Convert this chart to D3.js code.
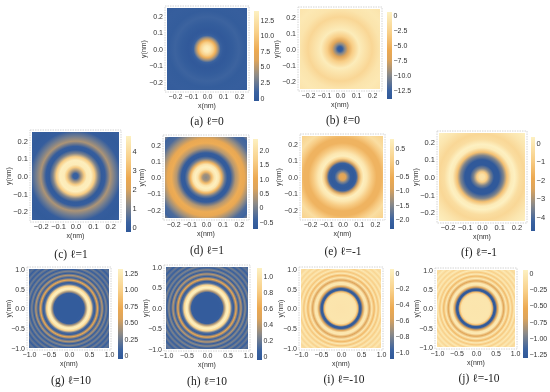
<!DOCTYPE html>
<html>
<head>
<meta charset="utf-8">
<script src="https://cdn.jsdelivr.net/npm/d3@7"></script>
<style>
  html, body { margin: 0; padding: 0; background: #fff; }
  svg { display: block; filter: blur(0.3px); }
  .tick text { font-family: "Liberation Sans", sans-serif; fill: #333; }
  .axis-title { font-family: "Liberation Sans", sans-serif; font-size: 7px; fill: #333; }
  .caption { font-family: "Liberation Serif", "DejaVu Serif", serif; font-size: 11.5px; fill: #222; text-anchor: middle; }
</style>
</head>
<body>
<div id="chart"></div>
<script>
// radial profiles: radius in nm, value in the panel's own units
const radiiA = [0, 0.02, 0.04, 0.055, 0.07, 0.085, 0.1, 0.12, 0.16, 0.2, 0.24, 0.3, 0.36];
const valuesA = [13.9, 13, 10.5, 8, 4, 1, 0, -0.3, 0.2, 1, 0.2, 0.4, 0.1];
const radiiB = [0, 0.015, 0.03, 0.05, 0.08, 0.12, 0.15, 0.2, 0.25, 0.3, 0.36];
const valuesB = [-13.9, -13, -10, -7, -3, 0, -0.8, -2.2, -0.8, -0.4, -0.9];
const radiiC = [0, 0.015, 0.03, 0.05, 0.065, 0.09, 0.11, 0.13, 0.15, 0.17, 0.2, 0.23, 0.26, 0.3, 0.36];
const valuesC = [0.1, 0.2, 1.3, 3.5, 4.6, 4.7, 3.5, 1, -0.1, 0, 1.5, 0.8, 0, -0.1, 0.1];
const radiiD = [0, 0.02, 0.035, 0.05, 0.065, 0.08, 0.095, 0.115, 0.13, 0.15, 0.18, 0.21, 0.235, 0.27, 0.3, 0.33, 0.36];
const valuesD = [0.1, 0.3, 1.3, 2.1, 2.35, 2.1, 1.2, -0.1, -0.65, -0.6, 0.4, 1.05, 0.95, 0.2, -0.3, -0.4, 0.3];
const radiiE = [0, 0.02, 0.035, 0.05, 0.07, 0.085, 0.1, 0.115, 0.13, 0.15, 0.18, 0.21, 0.24, 0.27, 0.3, 0.36];
const valuesE = [-0.6, -0.9, -1.6, -2.2, -2.3, -2.1, -1, 0.2, 0.75, 0.6, 0, -0.4, -0.4, 0, 0.4, 0.1];
const radiiF = [0, 0.015, 0.03, 0.05, 0.07, 0.1, 0.125, 0.145, 0.17, 0.19, 0.22, 0.25, 0.3, 0.36];
const valuesF = [-0.2, -0.3, -1, -3.5, -4.7, -4.7, -3.5, -1.3, 0.1, 0.3, -0.4, -0.6, -0.1, 0.3];
const radiiG = [0, 0.3, 0.38, 0.42, 0.47, 0.51, 0.56, 0.61, 0.65, 0.71, 0.77, 0.83, 0.88, 0.93, 0.98, 1.03, 1.08, 1.13, 1.18, 1.23, 1.28, 1.33, 1.42];
const valuesG = [0, 0, 0.02, 0.4, 1.2, 1.3, 1, 0.15, 0, 0.7, 0.05, 0.45, 0, 0.3, 0.02, 0.28, 0.02, 0.25, 0.02, 0.22, 0.02, 0.2, 0.05];
const radiiH = radiiG;
const valuesH = [0, 0, 0.02, 0.35, 1, 1.1, 0.85, 0.12, 0, 0.58, 0.04, 0.38, 0, 0.27, 0.02, 0.24, 0.02, 0.22, 0.02, 0.19, 0.02, 0.17, 0.04];
const radiiI = [0, 0.33, 0.38, 0.42, 0.46, 0.5, 0.55, 0.6, 0.65, 0.71, 0.77, 0.83, 0.88, 0.93, 0.98, 1.03, 1.08, 1.13, 1.18, 1.23, 1.28, 1.33, 1.42];
const valuesI = [-0.06, -0.05, -0.08, -0.35, -1.05, -1.05, -0.55, -0.05, -0.03, -0.55, -0.03, -0.36, -0.02, -0.28, -0.03, -0.23, -0.03, -0.2, -0.03, -0.17, -0.03, -0.15, -0.06];
const radiiJ = radiiI;
const valuesJ = [-0.07, -0.06, -0.09, -0.42, -1.28, -1.28, -0.67, -0.06, -0.03, -0.65, -0.03, -0.43, -0.02, -0.33, -0.03, -0.27, -0.03, -0.24, -0.03, -0.2, -0.03, -0.18, -0.07];

// value range of each colorbar
const rangeA = [-0.5, 13.9], rangeB = [-13.9, 0.5];
const rangeC = [-0.26, 4.8], rangeD = [-0.74, 2.38];
const rangeE = [-2.35, 0.82], rangeF = [-4.76, 0.32];
const rangeG = [-0.05, 1.31], rangeH = [-0.05, 1.1];
const rangeI = [-1.09, 0.05], rangeJ = [-1.31, 0.05];

// colorbar tick labels
const barTicksA = [0, 2.5, 5, 7.5, 10, 12.5];
const barTicksB = [0, -2.5, -5, -7.5, -10, -12.5];
const barTicksC = [0, 1, 2, 3, 4];
const barTicksD = [-0.5, 0, 0.5, 1, 1.5, 2];
const barTicksE = [-2, -1.5, -1, -0.5, 0, 0.5];
const barTicksF = [-4, -3, -2, -1, 0];
const barTicksG = [0, 0.25, 0.5, 0.75, 1, 1.25];
const barTicksH = [0, 0.2, 0.4, 0.6, 0.8, 1];
const barTicksI = [-1, -0.8, -0.6, -0.4, -0.2, 0];
const barTicksJ = [-1.25, -1, -0.75, -0.5, -0.25, 0];

const smallTicks = [-0.2, -0.1, 0, 0.1, 0.2];
const largeTicks = [-1, -0.5, 0, 0.5, 1];

const colorStops = ["#2f5899", "#3a62a0", "#8c8a88", "#dca45c", "#eca951", "#f8cf88", "#fdf1c2"];
const colorStopsAt = [0, 0.1, 0.28, 0.45, 0.56, 0.76, 1];

const panels = [
  { id: "a", label: "(a) ℓ=0", radii: radiiA, values: valuesA, range: rangeA, barTicks: barTicksA, barFmt: ".1f", lim: 0.25, ticks: smallTicks,
    box: [167, 247, 8, 90], bar: [254, 259, 11, 101], cap: [207, 125], size: 7 },
  { id: "b", label: "(b) ℓ=0", radii: radiiB, values: valuesB, range: rangeB, barTicks: barTicksB, barFmt: ".1f", lim: 0.25, ticks: smallTicks,
    box: [300, 380, 9, 89], bar: [387, 392, 12, 99], cap: [343, 124], size: 7 },
  { id: "c", label: "(c) ℓ=1", radii: radiiC, values: valuesC, range: rangeC, barTicks: barTicksC, barFmt: "d", lim: 0.25, ticks: smallTicks,
    box: [32, 119, 132, 220], bar: [126, 131, 136, 232], cap: [71, 258], size: 7.5 },
  { id: "d", label: "(d) ℓ=1", radii: radiiD, values: valuesD, range: rangeD, barTicks: barTicksD, barFmt: ".1f", lim: 0.25, ticks: smallTicks,
    box: [165, 247, 137, 218], bar: [253, 258, 139, 229], cap: [207, 254], size: 7 },
  { id: "e", label: "(e) ℓ=-1", radii: radiiE, values: valuesE, range: rangeE, barTicks: barTicksE, barFmt: ".1f", lim: 0.25, ticks: smallTicks,
    box: [302, 383, 136, 218], bar: [390, 394, 139, 229], cap: [343, 255], size: 7 },
  { id: "f", label: "(f) ℓ=-1", radii: radiiF, values: valuesF, range: rangeF, barTicks: barTicksF, barFmt: "d", lim: 0.25, ticks: smallTicks,
    box: [439, 525, 133, 221], bar: [531, 535, 137, 231], cap: [479, 256], size: 7.5 },
  { id: "g", label: "(g) ℓ=10", radii: radiiG, values: valuesG, range: rangeG, barTicks: barTicksG, barFmt: ".2f", lim: 1, ticks: largeTicks,
    box: [29, 109, 269, 348], bar: [118, 123, 269, 359], cap: [71, 384], size: 7 },
  { id: "h", label: "(h) ℓ=10", radii: radiiH, values: valuesH, range: rangeH, barTicks: barTicksH, barFmt: ".1f", lim: 1, ticks: largeTicks,
    box: [166, 248, 267, 349], bar: [257, 262, 268, 360], cap: [207, 385], size: 7 },
  { id: "i", label: "(i) ℓ=-10", radii: radiiI, values: valuesI, range: rangeI, barTicks: barTicksI, barFmt: ".1f", lim: 1, ticks: largeTicks,
    box: [301, 381, 269, 348], bar: [390, 394, 269, 359], cap: [344, 383], size: 7 },
  { id: "j", label: "(j) ℓ=-10", radii: radiiJ, values: valuesJ, range: rangeJ, barTicks: barTicksJ, barFmt: ".2f", lim: 1, ticks: largeTicks,
    box: [437, 515, 270, 347], bar: [523, 528, 270, 358], cap: [479, 382], size: 7 }
];

const width = 550, height = 392;

const svg = d3.select("#chart").append("svg")
  .attr("width", width)
  .attr("height", height)
  .attr("viewBox", `0 0 ${width} ${height}`);

const defs = svg.append("defs");

// fraction of a colorbar -> color
const colorMap = d3.scaleLinear().domain(colorStopsAt).range(colorStops).clamp(true);

// plain 0 on the decimal bars
function fmt(spec) {
  const f = d3.format(spec);
  return v => v === 0 ? "0" : f(v);
}

panels.forEach(p => {
  const [left, right, top, bottom] = p.box;
  const x = d3.scaleLinear().domain([-p.lim, p.lim]).range([left, right]);
  const y = d3.scaleLinear().domain([-p.lim, p.lim]).range([bottom, top]);
  const value = d3.scaleLinear().domain(p.range).range([0, 1]);
  const g = svg.append("g").attr("class", "panel-" + p.id);

  // density map: profile goes into a radial gradient centred on the origin
  const rMax = d3.max(p.radii);
  const grad = defs.append("radialGradient")
    .attr("id", "map-" + p.id)
    .attr("gradientUnits", "userSpaceOnUse")
    .attr("cx", x(0))
    .attr("cy", y(0))
    .attr("r", x(rMax) - x(0));
  grad.selectAll("stop")
    .data(p.radii)
    .enter()
    .append("stop")
    .attr("offset", d => d / rMax)
    .attr("stop-color", (d, i) => colorMap(value(p.values[i])));

  g.append("rect")
    .attr("x", left)
    .attr("y", top)
    .attr("width", right - left)
    .attr("height", bottom - top)
    .attr("fill", `url(#map-${p.id})`);

  // dotted light frame
  g.append("rect")
    .attr("x", left - 2)
    .attr("y", top - 2)
    .attr("width", right - left + 4)
    .attr("height", bottom - top + 4)
    .attr("fill", "none")
    .attr("stroke", "#d4d4d4")
    .attr("stroke-width", 1)
    .attr("stroke-dasharray", "1.5 1");

  // axes
  const tickFmt = d3.format(".1f");
  const xAxis = g.append("g")
    .attr("transform", `translate(0,${bottom + 2})`)
    .call(d3.axisBottom(x).tickValues(p.ticks).tickSize(0).tickPadding(2).tickFormat(tickFmt));
  const yAxis = g.append("g")
    .attr("transform", `translate(${left - 2},0)`)
    .call(d3.axisLeft(y).tickValues(p.ticks).tickSize(0).tickPadding(2).tickFormat(tickFmt));
  xAxis.select(".domain").remove();
  yAxis.select(".domain").remove();
  g.selectAll(".tick text").style("font-size", p.size + "px");

  g.append("text")
    .attr("class", "axis-title")
    .attr("x", x(0))
    .attr("y", bottom + 18)
    .attr("text-anchor", "middle")
    .text("x(nm)");
  g.append("text")
    .attr("class", "axis-title")
    .attr("transform", `translate(${left - (p.lim === 1 ? 18 : 21)},${y(0)}) rotate(-90)`)
    .attr("text-anchor", "middle")
    .text("y(nm)");

  // colorbar
  const [bl, br, bt, bb] = p.bar;
  const barScale = d3.scaleLinear().domain(p.range).range([bb, bt]);
  const barGrad = defs.append("linearGradient")
    .attr("id", "bar-" + p.id)
    .attr("x1", 0).attr("y1", 1).attr("x2", 0).attr("y2", 0);
  barGrad.selectAll("stop")
    .data(colorStopsAt)
    .enter()
    .append("stop")
    .attr("offset", d => d)
    .attr("stop-color", (d, i) => colorStops[i]);
  g.append("rect")
    .attr("x", bl)
    .attr("y", bt)
    .attr("width", br - bl)
    .attr("height", bb - bt)
    .attr("fill", `url(#bar-${p.id})`);
  const barAxis = g.append("g")
    .attr("transform", `translate(${br},0)`)
    .call(d3.axisRight(barScale).tickValues(p.barTicks).tickSize(0).tickPadding(1.5).tickFormat(fmt(p.barFmt)));
  barAxis.select(".domain").remove();
  barAxis.selectAll(".tick text").style("font-size", p.size + "px");

  g.append("text")
    .attr("class", "caption")
    .attr("x", p.cap[0])
    .attr("y", p.cap[1])
    .text(p.label);
});
</script>
</body>
</html>
